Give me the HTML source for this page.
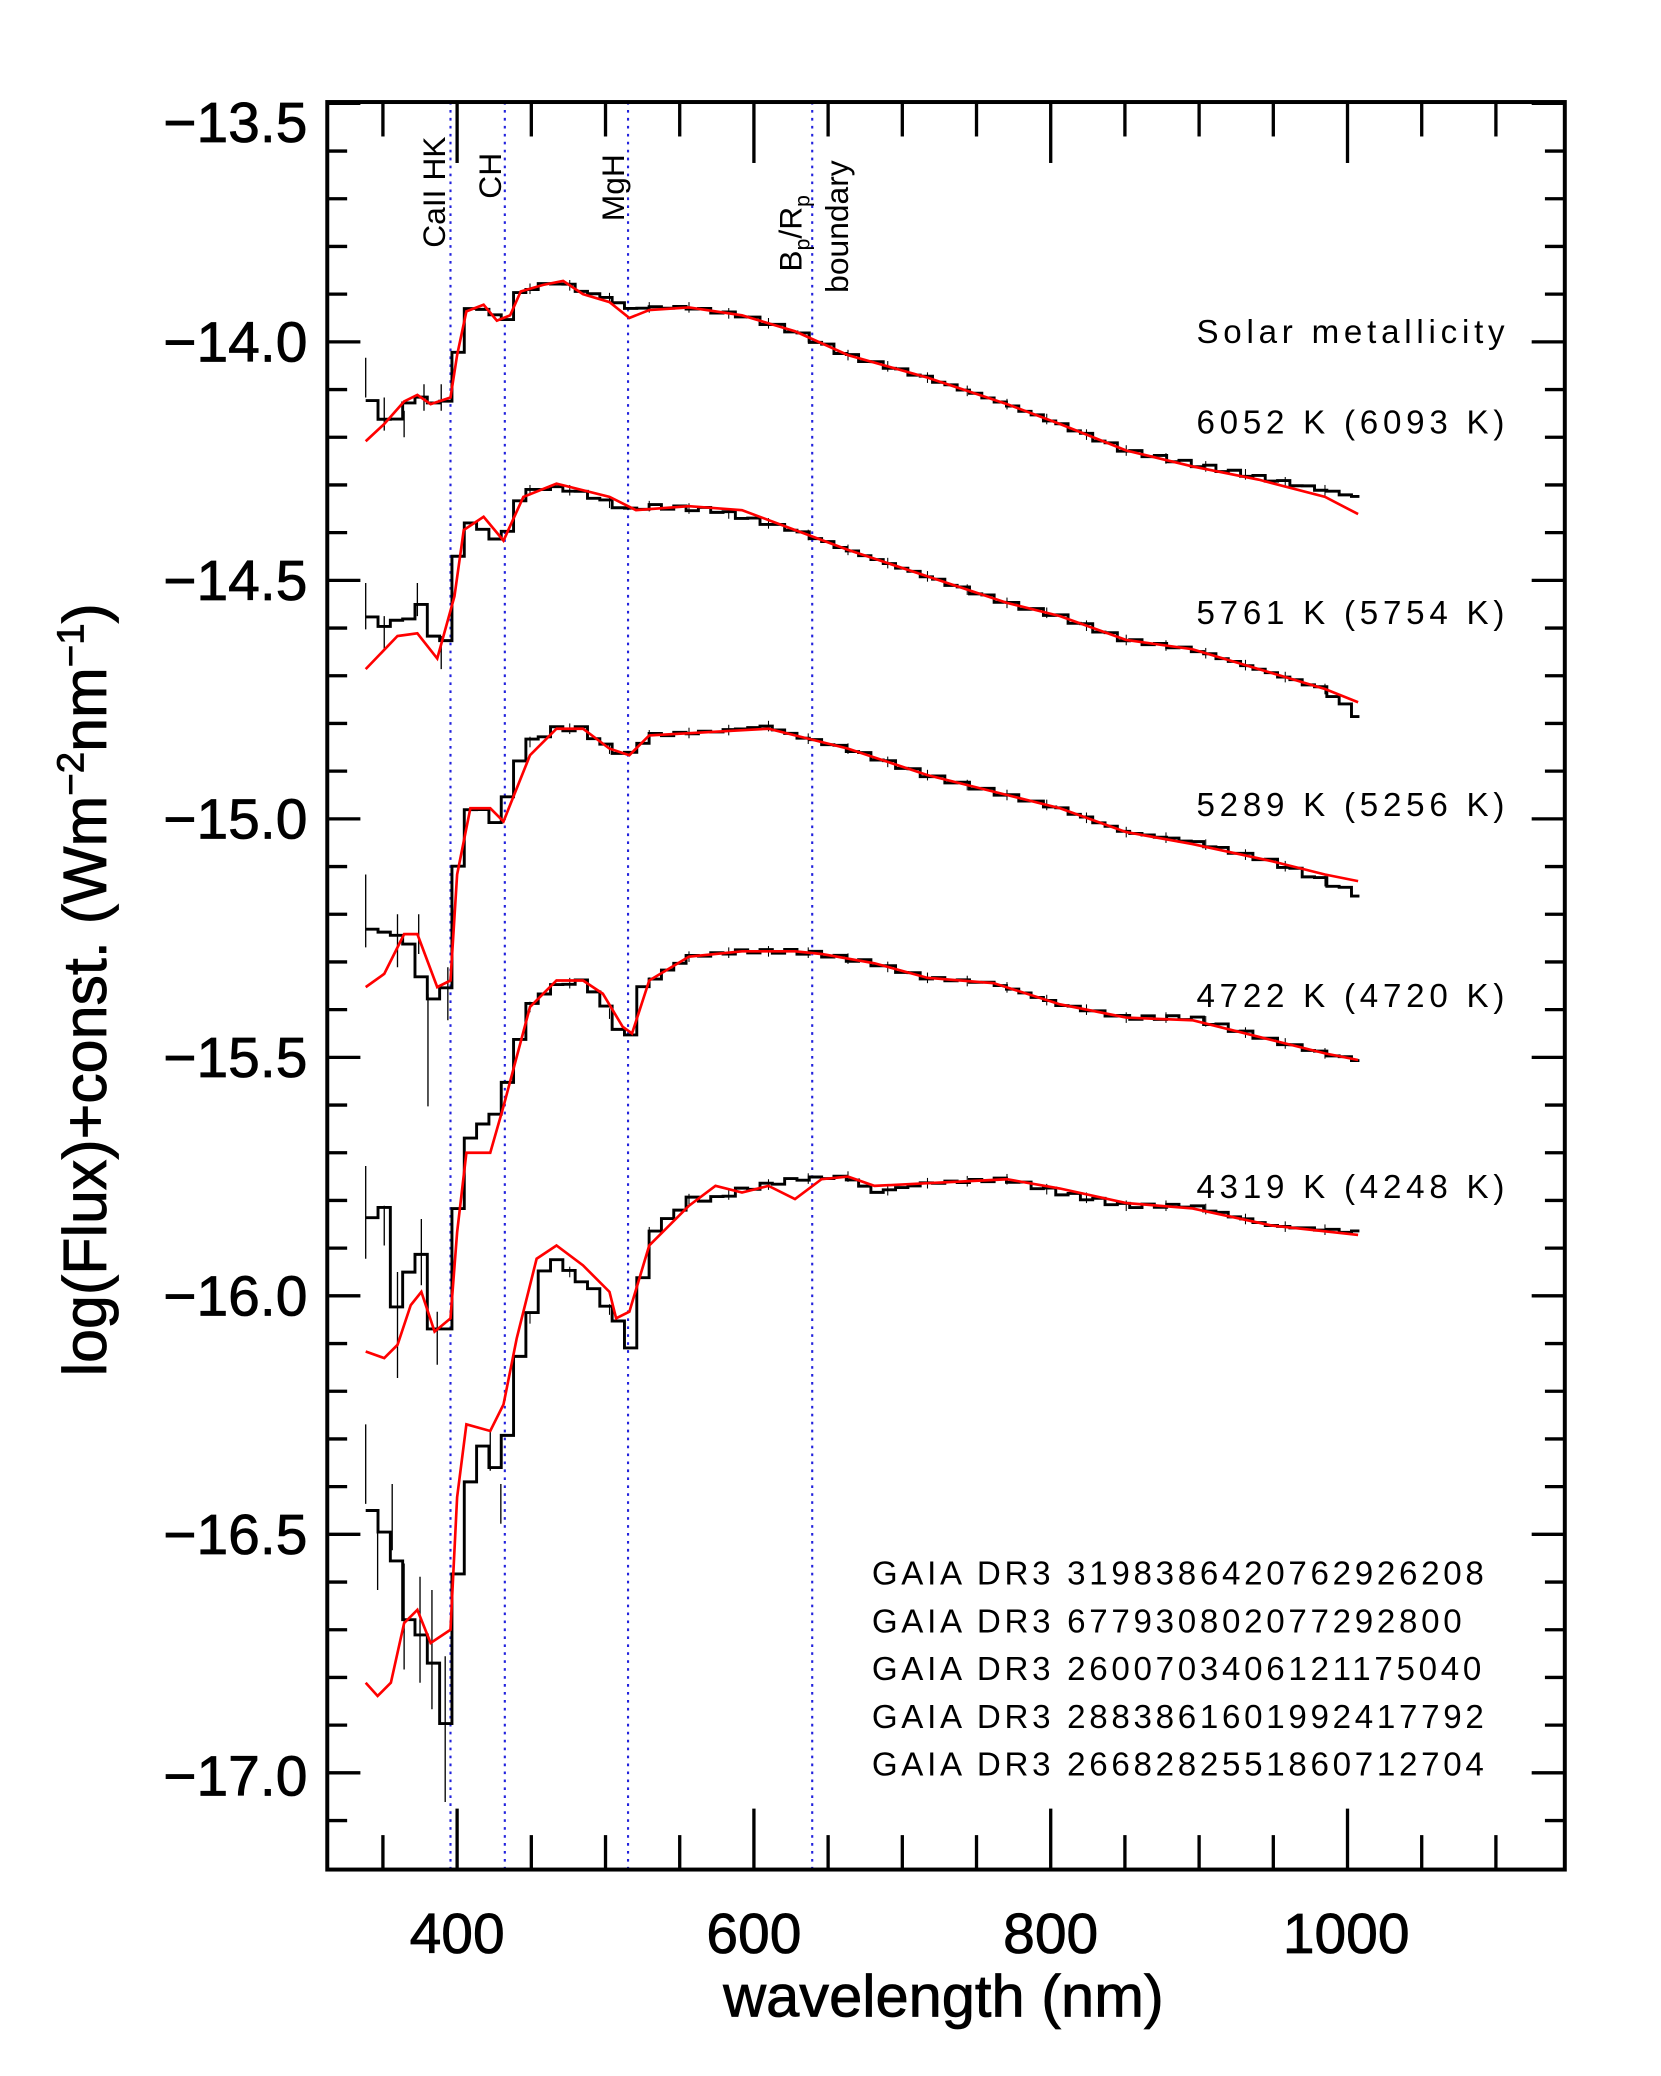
<!DOCTYPE html>
<html><head><meta charset="utf-8">
<style>
html,body{margin:0;padding:0;background:#fff;}
svg{display:block;}
text{font-family:"Liberation Sans",sans-serif;fill:#000;}
</style></head>
<body>
<svg id="s" width="1661" height="2076" viewBox="0 0 1253.6 1566.8" xmlns="http://www.w3.org/2000/svg">
<rect x="0" y="0" width="1260" height="1570" fill="#fff"/>
<g id="blue" stroke="#2222dd" stroke-width="1.6" stroke-dasharray="2,4"></g>
<g id="data"></g>
<rect x="247" y="77" width="934" height="1334" fill="none" stroke="#000" stroke-width="3"/>
<g id="ticks" stroke="#000" stroke-width="2.5"></g>
<g font-size="43" stroke="#000" stroke-width="0.6">
<text x="232" y="107" text-anchor="end">−13.5</text>
<text x="232" y="273" text-anchor="end">−14.0</text>
<text x="232" y="453" text-anchor="end">−14.5</text>
<text x="232" y="633" text-anchor="end">−15.0</text>
<text x="232" y="813" text-anchor="end">−15.5</text>
<text x="232" y="993" text-anchor="end">−16.0</text>
<text x="232" y="1173" text-anchor="end">−16.5</text>
<text x="232" y="1355" text-anchor="end">−17.0</text>
<text x="345" y="1474" text-anchor="middle">400</text>
<text x="569" y="1474" text-anchor="middle">600</text>
<text x="793" y="1474" text-anchor="middle">800</text>
<text x="1016" y="1474" text-anchor="middle">1000</text>
<text x="712" y="1522" text-anchor="middle" font-size="45">wavelength (nm)</text>
<text transform="translate(80,747) rotate(-90)" text-anchor="middle" font-size="46">log(Flux)+const. (Wm<tspan dy="-17" font-size="29">−2</tspan><tspan dy="17">nm</tspan><tspan dy="-17" font-size="29">−1</tspan><tspan dy="17">)</tspan></text>
</g>
<g font-size="24">
<text transform="translate(336,187) rotate(-90)">CaII HK</text>
<text transform="translate(378,150) rotate(-90)">CH</text>
<text transform="translate(471,167) rotate(-90)">MgH</text>
<text transform="translate(605,205) rotate(-90)">B<tspan dy="6" font-size="16">p</tspan><tspan dy="-6">/R</tspan><tspan dy="6" font-size="16">p</tspan></text>
<text transform="translate(640,221) rotate(-90)">boundary</text>
</g>
<g font-size="25" letter-spacing="3.6">
<text x="903" y="259">Solar metallicity</text>
<text x="903" y="327">6052 K (6093 K)</text>
<text x="903" y="471">5761 K (5754 K)</text>
<text x="903" y="616">5289 K (5256 K)</text>
<text x="903" y="760">4722 K (4720 K)</text>
<text x="903" y="904">4319 K (4248 K)</text>
</g>
<g font-size="25" letter-spacing="2.8">
<text x="658" y="1196">GAIA DR3 3198386420762926208</text>
<text x="658" y="1232">GAIA DR3 677930802077292800</text>
<text x="658" y="1268">GAIA DR3 2600703406121175040</text>
<text x="658" y="1304">GAIA DR3 2883861601992417792</text>
<text x="658" y="1340">GAIA DR3 2668282551860712704</text>
</g>
</svg>
<script>
var NS="http://www.w3.org/2000/svg";
function el(p,t,a){var e=document.createElementNS(NS,t);for(var k in a)e.setAttribute(k,a[k]);p.appendChild(e);return e;}
var tk=document.getElementById('ticks');
function X(nm){return 345+(nm-400)*1.12;}
for(var nm=350;nm<=1100;nm+=50){var x=X(nm);var maj=(nm%200==0);var L=maj?46:26;
 el(tk,'line',{x1:x,y1:1411,x2:x,y2:1411-L});el(tk,'line',{x1:x,y1:77,x2:x,y2:77+L});}
for(var i=0;i<=36;i++){var y=78+i*36;if(y>1410)break;var maj=(i%5==0);var L=maj?25:15;
 el(tk,'line',{x1:247,y1:y,x2:247+L,y2:y});el(tk,'line',{x1:1181,y1:y,x2:1181-L,y2:y});}
var bl=document.getElementById('blue');
[340,381,474,613].forEach(function(x){el(bl,'line',{x1:x,y1:77,x2:x,y2:1411});});
function interp(pts,x){if(x<=pts[0][0])return pts[0][1];for(var i=1;i<pts.length;i++){if(x<=pts[i][0]){var a=pts[i-1],b=pts[i];return a[1]+(b[1]-a[1])*(x-a[0])/(b[0]-a[0]);}}return pts[pts.length-1][1];}
var S=[
{h:[[276,285],[283,313],[300,318],[310,300],[330,303],[340,305],[345,268],[352,235],[365,232],[375,240],[385,240],[393,220],[410,215],[425,213],[440,220],[460,225],[475,233],[490,232],[520,232],[560,238],[600,250],[640,268],[700,285],[760,305],[800,320],[850,340],[900,350],[950,360],[1000,370],[1025,375]],
 r:[[276,333],[290,320],[305,303],[315,298],[325,305],[340,300],[345,268],[352,235],[365,230],[375,242],[385,238],[393,220],[410,215],[425,212],[440,222],[460,228],[475,240],[490,234],[520,232],[560,238],[600,250],[640,268],[700,285],[760,305],[800,320],[850,340],[900,352],[950,362],[1000,375],[1025,388]],e:[[276,270,300],[290,300,325],[305,310,330],[320,290,310],[333,290,310]]},
{h:[[276,455],[285,478],[295,465],[305,475],[315,450],[325,475],[335,495],[343,435],[350,395],[360,395],[370,405],[380,410],[390,380],[400,370],[420,368],[440,372],[475,385],[490,382],[540,385],[560,390],[600,400],[640,415],[700,435],[760,455],[800,465],[850,483],[900,490],[950,505],[1000,520],[1025,540]],
 r:[[276,505],[300,480],[315,478],[330,497],[343,450],[350,400],[365,390],[380,408],[395,375],[420,365],[460,375],[480,385],[520,382],[560,385],[600,400],[640,415],[700,435],[760,455],[800,465],[850,483],[900,490],[950,505],[1000,520],[1025,530]],e:[[276,440,475],[290,465,490],[315,440,465],[333,480,505]]},
{h:[[276,690],[285,712],[295,695],[305,720],[315,700],[322,790],[330,735],[340,750],[345,660],[352,610],[360,610],[370,615],[378,625],[388,580],[400,560],[420,550],[440,550],[460,565],[475,570],[490,555],[540,552],[580,548],[600,555],[640,565],[700,585],[760,600],[800,610],[850,628],[900,635],[960,650],[1000,665],[1025,675]],
 r:[[276,745],[290,735],[305,705],[315,705],[330,745],[340,740],[345,660],[355,610],[370,610],[380,620],[400,570],[420,550],[440,550],[460,565],[475,570],[490,555],[580,550],[600,555],[640,565],[700,585],[760,600],[800,610],[850,628],[900,637],[960,650],[1000,660],[1025,665]],e:[[276,660,715],[300,690,730],[316,690,720],[323,750,835],[338,730,770]]},
{h:[[276,910],[285,925],[295,900],[300,1000],[310,955],[318,945],[328,1010],[338,1000],[345,920],[352,860],[370,845],[380,830],[390,790],[400,760],[415,745],[440,740],[455,755],[465,775],[475,785],[485,745],[500,735],[520,722],[560,718],[600,718],[620,720],[660,727],[700,738],[750,742],[800,758],[850,768],[900,768],[960,785],[1000,795],[1025,800]],
 r:[[276,1020],[290,1025],[300,1015],[310,985],[318,975],[328,1005],[340,995],[345,930],[352,870],[370,870],[380,835],[400,760],[420,740],[440,740],[455,750],[470,775],[477,780],[490,740],[520,722],[560,718],[600,718],[620,720],[660,727],[700,738],[750,742],[800,758],[850,768],[900,770],[960,785],[1000,795],[1025,800]],e:[[276,880,950],[290,910,940],[300,960,1040],[318,920,970],[330,990,1030]]},
{h:[[276,1105],[285,1170],[295,1145],[305,1220],[315,1230],[325,1240],[333,1300],[340,1300],[345,1195],[352,1135],[360,1090],[372,1095],[378,1140],[385,1060],[395,1010],[405,980],[415,945],[430,960],[450,975],[465,995],[478,1020],[490,930],[500,925],[520,905],[540,905],[560,898],[600,890],[640,888],[660,900],[700,893],[760,890],[800,900],[850,910],[900,910],[960,925],[1025,930]],
 r:[[276,1270],[285,1280],[295,1270],[305,1225],[315,1215],[325,1240],[340,1230],[345,1130],[352,1075],[370,1080],[380,1060],[390,1010],[405,950],[420,940],[440,955],[460,975],[465,995],[475,990],[490,940],[520,910],[540,895],[560,900],[580,895],[600,905],[620,890],[640,888],[660,895],[700,893],[760,890],[800,897],[850,908],[900,912],[960,925],[1025,932]],e:[[276,1075,1135],[285,1140,1200],[296,1120,1170],[305,1180,1260],[317,1190,1270],[326,1200,1290],[336,1250,1360],[370,1080,1110],[378,1120,1150]]}
];
var d=document.getElementById('data');
S.forEach(function(s,k){
 var p="";var x0=276,w=9.3;var first=true;
 for(var x=x0;x<1026;x+=w){var xe=Math.min(x+w,1026);var y=interp(s.h,x+w/2)+Math.sin(x*1.7+k)*1.5;
  if(first){p+="M"+x.toFixed(1)+" "+y.toFixed(1);first=false;}else p+="V"+y.toFixed(1);
  p+="H"+xe.toFixed(1);}
 el(d,'path',{d:p,fill:'none',stroke:'#000','stroke-width':2.2});
 s.e.forEach(function(e){el(d,'line',{x1:e[0],y1:e[1],x2:e[0],y2:e[2],stroke:'#000','stroke-width':1});});
 for(var x=400;x<1026;x+=30){var y=interp(s.h,x);el(d,'line',{x1:x,y1:y-4,x2:x,y2:y+4,stroke:'#000','stroke-width':0.8});}
 var q="";s.r.forEach(function(pt,i){q+=(i?"L":"M")+pt[0]+" "+pt[1];});
 el(d,'path',{d:q,fill:'none',stroke:'#ff0000','stroke-width':2});
});
</script>
</body></html>
